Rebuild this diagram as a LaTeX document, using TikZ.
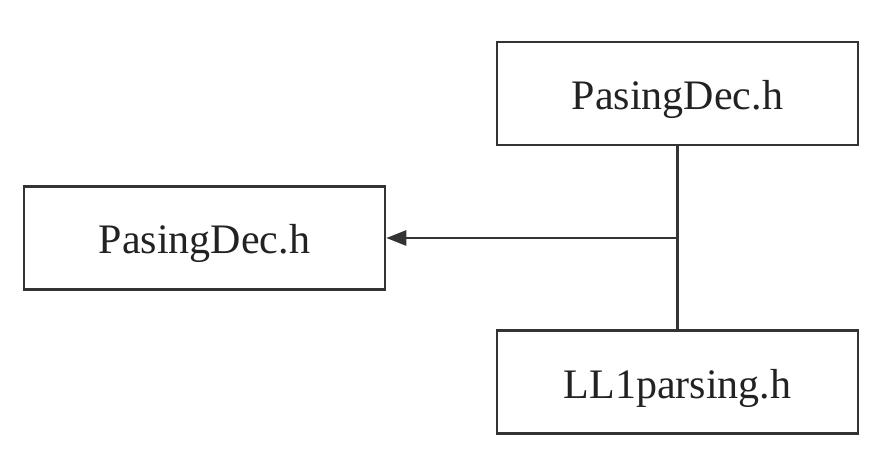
\documentclass[tikz,border=0pt]{standalone}
\usepackage{fontspec}
\setmainfont{Liberation Serif}
\usetikzlibrary{arrows.meta}
\definecolor{linec}{HTML}{333333}
\definecolor{textc}{HTML}{222222}
\begin{document}
\begin{tikzpicture}[x=1pt,y=-1pt,
  filebox/.style={draw=linec,line width=2.6pt,minimum width=361pt,minimum height=103pt,inner sep=0pt,
    text height=34pt,text depth=2pt,
    font=\fontsize{42}{48}\selectfont,text=textc},
  link/.style={draw=linec,line width=2.6pt}]
\useasboundingbox (0,0) rectangle (878,457);
\node[filebox] (top) at (677.5,93.5) {PasingDec.h};
\node[filebox] (left) at (204.5,238) {PasingDec.h};
\node[filebox] (bot) at (677.5,382) {LL1parsing.h};
\coordinate (j) at (677.5,238);
\draw[link] (top.south) -- (bot.north);
\draw[link,-{Triangle[length=20pt,width=15pt]}] (j) -- (left.east);
\end{tikzpicture}
\end{document}
